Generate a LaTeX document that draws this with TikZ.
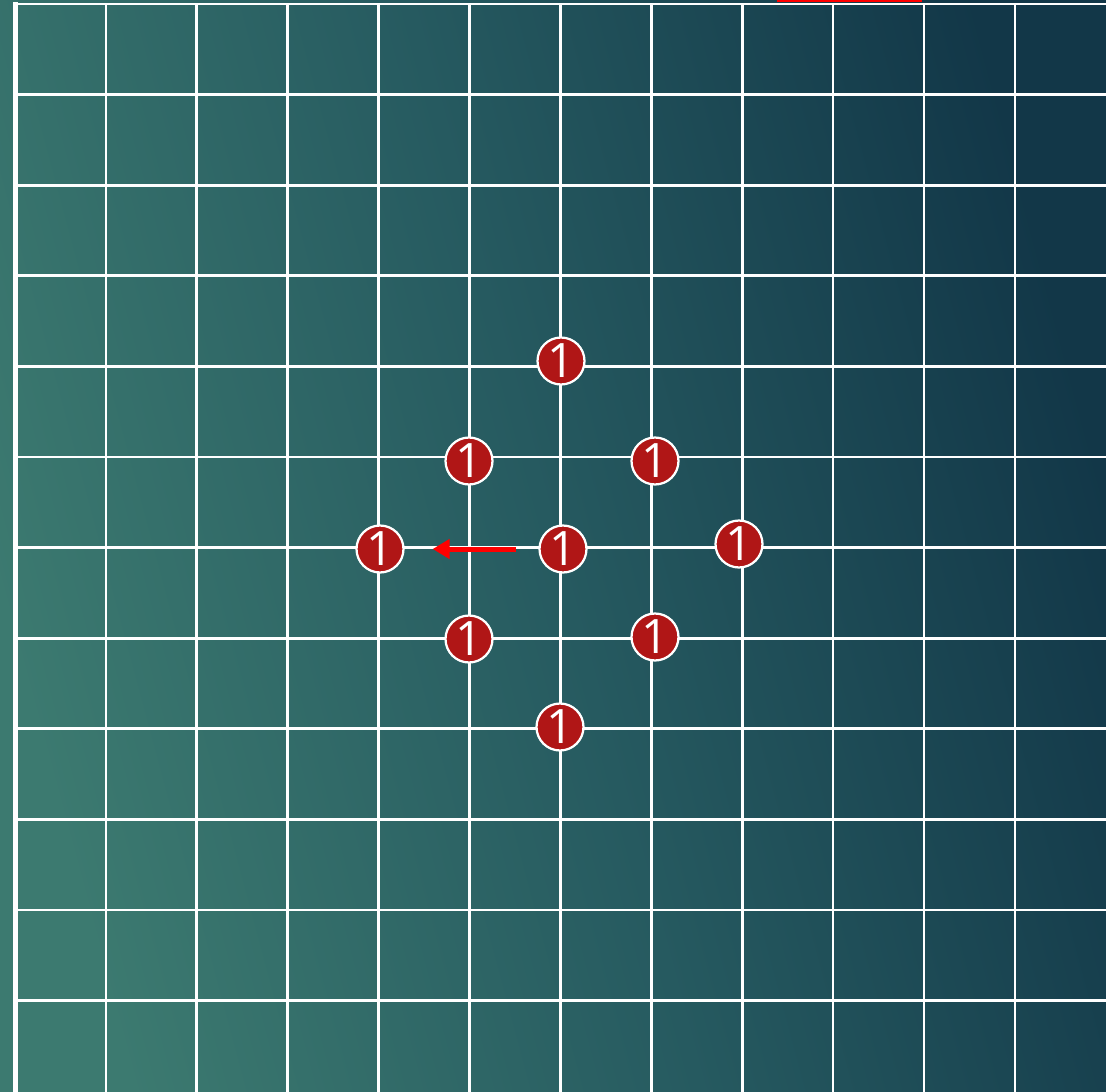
\documentclass[tikz,border=0pt]{standalone}
\usepackage{fontspec}
\newfontfamily\stonefont{Open Sans}
\usetikzlibrary{arrows.meta}
\definecolor{boardlight}{RGB}{60,122,112}
\definecolor{boardmid}{RGB}{38,90,96}
\definecolor{boarddark}{RGB}{18,55,72}
\definecolor{stonered}{RGB}{176,22,22}
\tikzset{
  gridline/.style={white, line width=0.055cm},
  stone/.style={circle, draw=white, fill=stonered, line width=0.045cm, minimum size=0.94cm,
    inner sep=0pt, text=white, font=\stonefont\fontsize{27}{27}\selectfont},
  movearrow/.style={-{Triangle[length=0.34cm,width=0.38cm]}, red, line width=0.1cm},
}

\begin{document}
\begin{tikzpicture}[x=0.02cm, y=-0.02cm]
  \useasboundingbox (0,0) rectangle (1106,1092);
  % board
  \shade[left color=boardlight, right color=boarddark, middle color=boardmid, shading angle=105]
    (0,0) rectangle (1106,1092);
  \foreach \i in {0,...,11} {
    \draw[gridline] ({15+90.9*\i},3) -- ({15+90.9*\i},1092);
    \draw[gridline] (13,{4+90.6*\i}) -- (1106,{4+90.6*\i});
  }
  \draw[gridline, line width=0.1cm] (15.5,2) -- (15.5,1092);
  \draw[red, line width=0.03cm] (777,0.8) -- (922,0.8);
  % stones
  \node[stone] (top) at (561,361) {1};
  \node[stone] (upleft) at (469,461) {1};
  \node[stone] (upright) at (655,461) {1};
  \node[stone] (left) at (380,549) {1};
  \node[stone] (center) at (563,549) {1};
  \node[stone] (right) at (739,544) {1};
  \node[stone] (lowleft) at (469,639) {1};
  \node[stone] (lowright) at (655,637) {1};
  \node[stone] (bottom) at (560,727) {1};
  % move
  \draw[movearrow, shorten <=0.44cm, shorten >=0.56cm] (center.west) -- (left.east);
\end{tikzpicture}
\end{document}
